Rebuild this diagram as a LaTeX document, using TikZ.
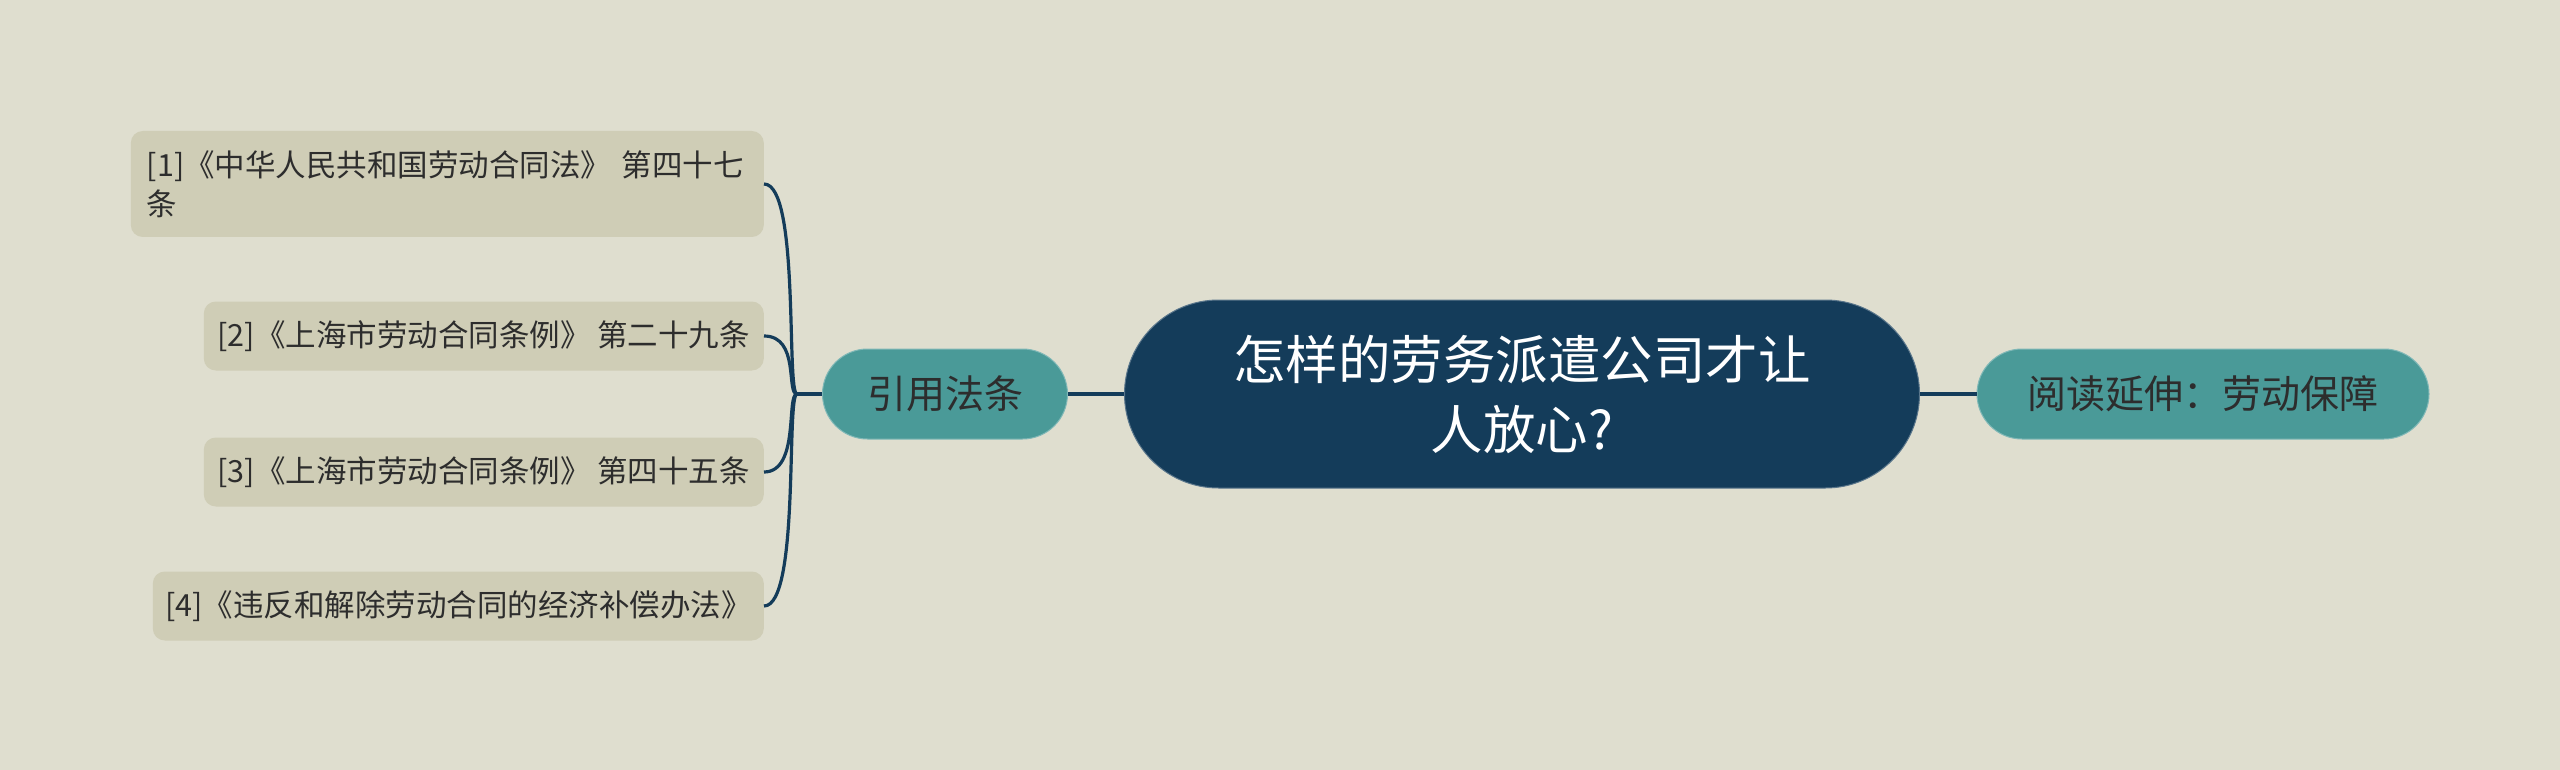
\documentclass[tikz,border=0pt]{standalone}
\usepackage{fontspec}
\setmainfont{Noto Sans CJK SC}
\definecolor{bgc}{RGB}{223,222,207}
\definecolor{darkc}{RGB}{20,60,90}
\definecolor{tealc}{RGB}{74,154,152}
\definecolor{leafc}{RGB}{207,205,182}
\definecolor{txtc}{RGB}{45,45,45}
\begin{document}
\begin{tikzpicture}[x=1pt,y=-1pt,
  rootbox/.style={fill=darkc, draw=darkc!70!white, line width=1pt, rounded corners=94pt, minimum width=795pt, minimum height=188pt, text=white, align=center, font=\fontsize{52.5}{70}\selectfont, inner sep=0pt},
  subbox/.style={fill=tealc, draw=tealc!70!white, line width=1pt, rounded corners=45pt, minimum height=90pt, text=txtc, font=\fontsize{39}{46}\selectfont, inner sep=0pt},
  leafbox/.style={fill=leafc, rounded corners=12pt, text=txtc, font=\fontsize{30.5}{39}\selectfont, inner sep=0pt, minimum height=69pt},
  link/.style={draw=darkc, line width=3.5pt},
  branch/.style={draw=darkc, line width=3.2pt}]
\useasboundingbox[fill=bgc] (0,0) rectangle (2560,770);
\node[rootbox] (root) at (1522,394) {怎样的劳务派遣公司才让\\人放心?};
\node[subbox, minimum width=245pt] (yin) at (945,394) {引用法条};
\node[subbox, minimum width=452pt] (yue) at (2203,394) {阅读延伸：劳动保障};
\node[leafbox, anchor=east, minimum width=633pt, minimum height=106pt, text width=601pt, align=left] (l1) at (764,184) {[1]《中华人民共和国劳动合同法》 第四十七\\条};
\node[leafbox, anchor=east, minimum width=560pt] (l2) at (764,336) {[2]《上海市劳动合同条例》 第二十九条};
\node[leafbox, anchor=east, minimum width=560pt] (l3) at (764,472) {[3]《上海市劳动合同条例》 第四十五条};
\node[leafbox, anchor=east, minimum width=611pt] (l4) at (764,606) {[4]《违反和解除劳动合同的经济补偿办法》};
\coordinate (hub) at (797,394);
\draw[link] (root.west) -- (yin.east);
\draw[link] (root.east) -- (yue.west);
\draw[link] (yin.west) -- (hub);
\foreach \l in {l1,l2,l3,l4}{
  \draw[branch] (\l.east) .. controls ([xshift=36pt]\l.east) and (786,394) .. (hub);
}
\end{tikzpicture}
\end{document}
